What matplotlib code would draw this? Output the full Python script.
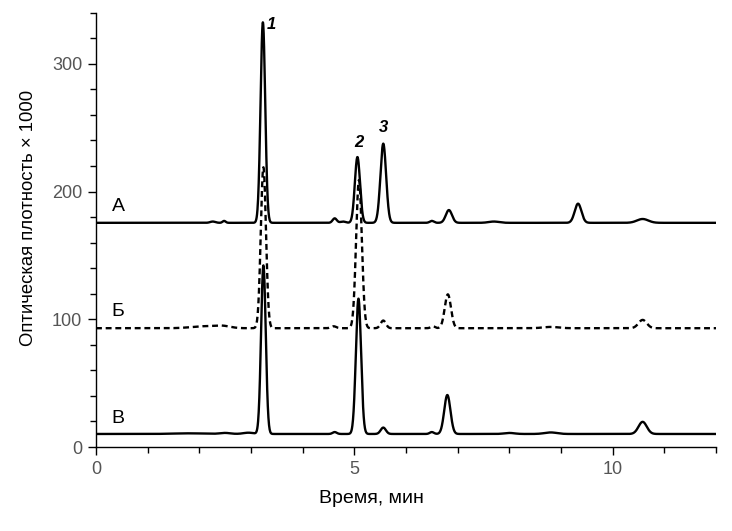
import numpy as np
import matplotlib.pyplot as plt
from matplotlib.ticker import MultipleLocator

plt.rcParams["font.family"] = ["Liberation Sans", "DejaVu Sans"]

# ===================== данные (пики: время, высота, ширина σ) =====================
BASE_A = 175.5
PEAK_T_A = [2.26, 2.48, 3.23, 4.62, 4.78, 5.06, 5.56, 6.50, 6.83, 7.70, 9.33, 10.58]
PEAK_H_A = [1.0, 1.5, 157.0, 3.5, 1.0, 51.5, 62.0, 1.5, 10.0, 1.0, 15.0, 3.0]
PEAK_W_A = [0.05, 0.03, 0.045, 0.04, 0.05, 0.05, 0.055, 0.04, 0.06, 0.10, 0.065, 0.11]

BASE_B = 93.0
PEAK_T_B = [2.10, 2.45, 3.24, 4.60, 5.09, 5.56, 6.52, 6.81, 8.80, 10.58]
PEAK_H_B = [1.5, 1.5, 126.0, 1.5, 116.0, 6.0, 1.5, 26.5, 1.0, 6.5]
PEAK_W_B = [0.25, 0.15, 0.05, 0.05, 0.055, 0.05, 0.04, 0.06, 0.15, 0.08]

BASE_V = 10.2
PEAK_T_V = [1.80, 2.50, 2.95, 3.24, 4.62, 5.08, 5.56, 6.50, 6.80, 8.00, 8.80, 10.58]
PEAK_H_V = [0.5, 0.8, 1.0, 132.0, 1.5, 106.0, 5.0, 1.5, 30.5, 0.8, 1.2, 9.5]
PEAK_W_V = [0.3, 0.1, 0.1, 0.045, 0.04, 0.05, 0.05, 0.04, 0.06, 0.1, 0.12, 0.08]

TRACE_LABELS = ["А", "Б", "В"]
TRACE_LABEL_Y = [188.0, 105.7, 22.7]
PEAK_NUMBERS = ["1", "2", "3"]
PEAK_NUMBER_T = [3.40, 5.08, 5.56]
PEAK_NUMBER_Y = [330.5, 238.0, 250.0]

# ===================== построение кривых =====================
t = np.linspace(0, 12, 3000)


def trace(base, times, heights, widths):
    y = np.full_like(t, base)
    for t0, h, w in zip(times, heights, widths):
        y += h * np.exp(-0.5 * ((t - t0) / w) ** 2)
    return y


y_a = trace(BASE_A, PEAK_T_A, PEAK_H_A, PEAK_W_A)
y_b = trace(BASE_B, PEAK_T_B, PEAK_H_B, PEAK_W_B)
y_v = trace(BASE_V, PEAK_T_V, PEAK_H_V, PEAK_W_V)

fig = plt.figure(figsize=(7.32, 5.31), dpi=100)
ax = fig.add_axes([96 / 732, 1 - 447 / 531, 620 / 732, 434.3 / 531])

ax.plot(t, y_a, color="black", lw=1.7)
ax.plot(t, y_b, color="black", lw=1.7, linestyle=(0, (2.5, 1.6)))
ax.plot(t, y_v, color="black", lw=1.7)

ax.set_xlim(0, 12)
ax.set_ylim(0, 340)
ax.xaxis.set_major_locator(MultipleLocator(5))
ax.xaxis.set_minor_locator(MultipleLocator(1))
ax.yaxis.set_major_locator(MultipleLocator(100))
ax.yaxis.set_minor_locator(MultipleLocator(20))
ax.tick_params(which="major", length=6, width=1, direction="out", labelsize=13,
               labelcolor="#555555", pad=4)
ax.tick_params(which="minor", length=4, width=1, direction="out")
for side in ["top", "right"]:
    ax.spines[side].set_visible(False)
for side in ["left", "bottom"]:
    ax.spines[side].set_linewidth(1.0)

ax.set_xlabel("Время, мин", fontsize=14)
ax.set_ylabel("Оптическая плотность × 1000", fontsize=13.3)
ax.xaxis.set_label_coords(0.445, -0.10)
ax.yaxis.set_label_coords(-0.095, 0.528)

# подписи кривых
for lab, yy in zip(TRACE_LABELS, TRACE_LABEL_Y):
    ax.text(0.3, yy, lab, fontsize=14, ha="left", va="center")

# номера пиков
for num, tx, ty in zip(PEAK_NUMBERS, PEAK_NUMBER_T, PEAK_NUMBER_Y):
    ax.text(tx, ty, num, fontsize=12, fontstyle="italic", fontweight="bold",
            ha="center", va="center")

plt.savefig("out.png", dpi=100)
